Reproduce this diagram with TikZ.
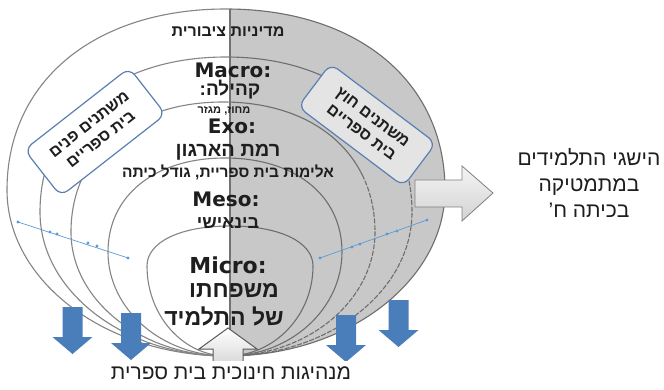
\documentclass[tikz,border=0pt]{standalone}
\usepackage{fontspec}
\setmainfont{Liberation Sans}
\newfontfamily\heb[Script=Hebrew]{Liberation Sans}
\newfontfamily\lat{DejaVu Sans}
\TeXXeTstate=1
\newcommand\RL[1]{\beginR #1\endR}
\usetikzlibrary{calc}
\definecolor{ringgrey}{HTML}{858585}
\definecolor{ringdark}{HTML}{6E6E6E}
\definecolor{halfgrey}{HTML}{C8C8C8}
\definecolor{boxblue}{HTML}{5A7FB0}
\definecolor{arrowblue}{HTML}{4A7EBB}
\definecolor{dotblue}{HTML}{5B9BD5}
\definecolor{txt}{HTML}{1E1E1E}
\definecolor{boxgrey}{HTML}{E4E4E4}
% egg: #1 top x, #2 top y, #3 left x, #4 right x, #5 y of widest point
\newcommand\eggpath[5]{(227,356) .. controls ({227-0.55*(227-#3)},356) and (#3,{#5+0.55*(356-#5)}) .. (#3,#5)
 .. controls (#3,{#5-0.6*(#5-#2)}) and ({#1-0.6*(#1-#3)},#2) .. (#1,#2)
 .. controls ({#1+0.6*(#4-#1)},#2) and (#4,{#5-0.6*(#5-#2)}) .. (#4,#5)
 .. controls (#4,{#5+0.55*(356-#5)}) and ({227+0.55*(#4-227)},356) .. (227,356) -- cycle}
\newcommand\bluearr[3]{\fill[arrowblue] ({#2-10},#3) -- ({#2+10},#3) -- ({#2+10},{#3+30}) -- ({#2+20},{#3+30}) -- (#2,{#3+47}) coordinate (#1) -- ({#2-20},{#3+30}) -- ({#2-10},{#3+30}) -- cycle;}
\tikzset{
  ring/.style={draw=ringgrey, line width=1.1pt},
  ringr/.style={draw=ringdark, line width=1.1pt},
  ringd/.style={draw=ringdark, line width=1.1pt, dash pattern=on 5pt off 1.5pt},
  hb/.style={font=\heb\bfseries\fontsize{#1}{#1}\selectfont, text=txt, inner sep=0pt},
  hr/.style={font=\heb\fontsize{#1}{26}\selectfont, text=txt, inner sep=0pt},
  lt/.style={font=\lat\bfseries\fontsize{#1}{#1}\selectfont, text=txt, inner sep=0pt},
  varbox/.style={draw=boxblue, line width=1.2pt, rounded corners=9pt, align=center,
     font=\heb\bfseries\fontsize{16}{19}\selectfont, text=txt, inner sep=2pt},
  dotline/.style={draw=dotblue, line width=0.7pt},
  dotmark/.style={fill=dotblue, circle, inner sep=0pt, minimum size=3.2pt},
}
\begin{document}
\begin{tikzpicture}[x=1pt,y=-1pt]
\useasboundingbox (0,0) rectangle (664,390);
\fill[white] (0,0) rectangle (664,390);
\begin{scope}
\clip (0,0) rectangle (664,360);
% left half rings
\begin{scope}
\clip (0,0) rectangle (230,360);
\draw[ring] \eggpath{226}{9}{7}{445}{190};
\draw[ring] \eggpath{226}{57}{40}{412}{212};
\draw[ring] \eggpath{223}{102}{71}{375}{232};
\draw[ring] \eggpath{225}{158}{108}{342}{252};
\draw[ring] \eggpath{230}{226}{147}{313}{266};
\end{scope}
% grey right half and its rings
\begin{scope}
\clip (230,0) rectangle (470,360);
\fill[halfgrey] \eggpath{226}{9}{7}{445}{190};
\draw[ringr] \eggpath{226}{9}{7}{445}{190};
\draw[ringr] \eggpath{225}{158}{108}{342}{252};
\draw[ringr] \eggpath{230}{226}{147}{313}{266};
\end{scope}
\begin{scope}
\clip (230,0) rectangle (470,175);
\draw[ringr] \eggpath{226}{57}{40}{412}{212};
\draw[ringr] \eggpath{223}{102}{71}{375}{232};
\end{scope}
\begin{scope}
\clip (230,175) rectangle (470,360);
\draw[ringd] \eggpath{226}{57}{40}{412}{212};
\draw[ringd] \eggpath{223}{102}{71}{375}{232};
\end{scope}
% dividing line
\draw[draw=gray!90!black, line width=1.6pt] (230,9) -- (230,356);
% boxes
\node[varbox, fill=white, rotate=38, minimum width=133pt, minimum height=59pt] (inbox) at (95,132) {\RL{משתנים פנים}\\\RL{בית ספריים}};
\node[varbox, fill=boxgrey, rotate=-37, minimum width=132pt, minimum height=54pt] (outbox) at (367,125) {\RL{משתנים חוץ}\\\RL{בית ספריים}};
% labels
\node[hb=16] (policy) at (228,32) {\RL{מדיניות ציבורית}};
\node[lt=20] (macro) at (233,70) {Macro:};
\node[hb=19] (kehila) at (230,90) {\RL{קהילה:}};
\node[hb=11] (mahoz) at (224,111) {\RL{מחוז, מגזר}};
\node[lt=20] (exo) at (232,126) {Exo:};
\node[hb=20] (irgun) at (228,152) {\RL{רמת הארגון}};
\node[hb=15.5] (alimut) at (228,172) {\RL{אלימות בית ספריית, גודל כיתה}};
\node[lt=20] (meso) at (226,199) {Meso:};
\node[hb=18] (binishi) at (228,223) {\RL{בינאישי}};
\node[lt=22] (micro) at (228,265) {Micro:};
\node[hb=23] (mishpahto) at (234,291) {\RL{משפחתו}};
\node[hb=23] (talmid) at (224,316) {\RL{של התלמיד}};
% dotted blue lines
\coordinate (la) at (18,222); \coordinate (lb) at (128,258);
\coordinate (ra) at (320,258); \coordinate (rb) at (427,220);
\draw[dotline] (la) -- (lb);
\draw[dotline] (ra) -- (rb);
\foreach \p in {(18,222),(50,232),(57,234),(88,243),(97,246),(128,258),(320,258),(352,247),(360,244),(387,234),(397,231),(427,220)}
  \node[dotmark] at \p {};
% blue arrows
\bluearr{ba}{72.5}{307}
\bluearr{bb}{131}{313}
\bluearr{bc}{346}{315}
\bluearr{bd}{398.5}{300}
% grey arrow to the right
\draw[draw=gray, line width=0.8pt, top color=white!92!gray, bottom color=gray!35] (415,180) -- (462,180) -- (462,166) -- (493,193) coordinate (gtip) -- (462,221) -- (462,207) -- (415,207) -- cycle;
% white arrow up
\draw[draw=black!65, line width=1pt, top color=white, bottom color=gray!30] (213,364) -- (213,349) -- (199,349) -- (228,328) coordinate (wtip) -- (257,349) -- (243,349) -- (243,364);
\end{scope}
% side texts
\node[hr=21, align=center] (result) at (589,183) {\RL{הישגי התלמידים}\\\RL{במתמטיקה}\\\RL{בכיתה ח’}};
\node[hr=21] (leadership) at (231,373) {\RL{מנהיגות חינוכית בית ספרית}};
\end{tikzpicture}
\end{document}
